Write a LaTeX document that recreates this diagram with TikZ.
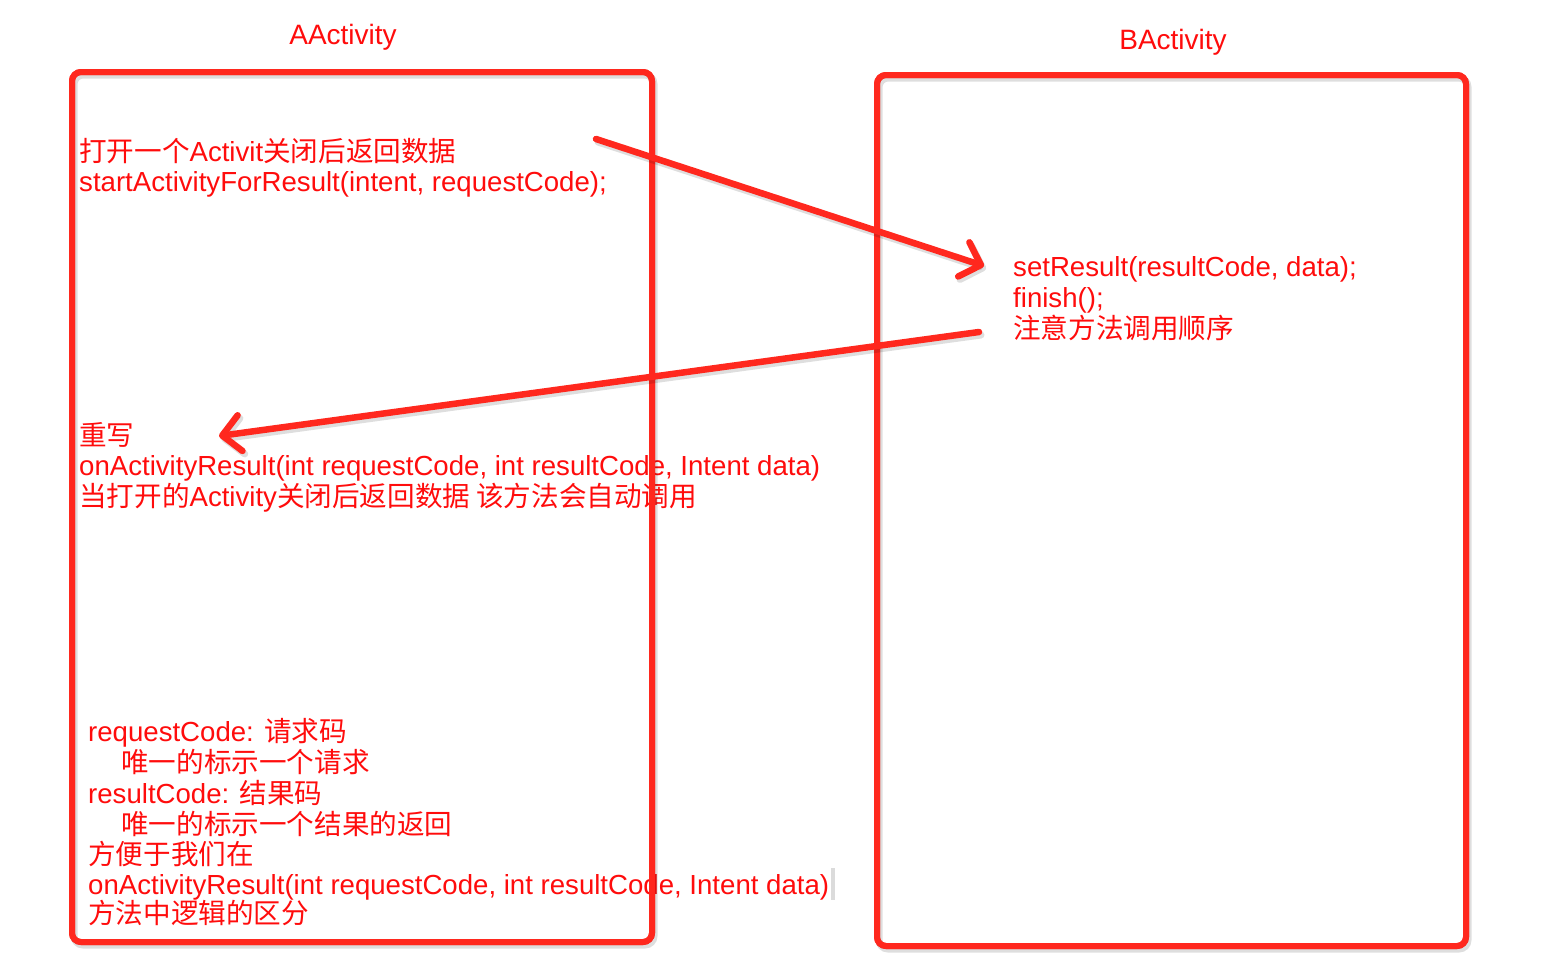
\documentclass[tikz,border=0pt]{standalone}
\usepackage{fontspec}
\setmainfont{Liberation Sans}
\newfontfamily\zh{Noto Sans CJK SC}
\usetikzlibrary{arrows.meta}
\definecolor{boxred}{RGB}{255,40,30}
\definecolor{txtred}{RGB}{255,12,12}
\tikzset{
  actbox/.style={draw=boxred, line width=6pt, rounded corners=9pt, inner sep=0pt, outer sep=0pt},
  shadowline/.style={draw=black, opacity=0.13, line width=7pt, rounded corners=9pt},
  shadowarrow/.style={draw=black, opacity=0.13, line width=7pt, line cap=round, -{Straight Barb[round, length=18pt, width=36pt]}},
  titletext/.style={text=txtred, font=\fontsize{28}{32}\selectfont, inner sep=0pt, anchor=base},
  txt/.style={text=txtred, font=\fontsize{27.6}{31}\selectfont, inner sep=0pt, anchor=base west},
  callarrow/.style={draw=boxred, line width=6.5pt, line cap=round, -{Straight Barb[round, length=18pt, width=36pt]}},
  cursorbar/.style={fill=black!14, draw=none, minimum width=4pt, minimum height=32pt, inner sep=0pt},
}
\begin{document}
\begin{tikzpicture}[x=1pt,y=-1pt]
\useasboundingbox (0,0) rectangle (1544,972);
\fill[white] (0,0) rectangle (1544,972);

% titles
\node[titletext] (tA) at (343,44) {AActivity};
\node[titletext] (tB) at (1173,49) {BActivity};

% A text
\node[txt] (l1) at (79,161) {{\zh 打开一个}Activit{\zh 关闭后返回数据}};
\node[txt] (l2) at (79,191) {startActivityForResult(intent, requestCode);};
\node[txt] (r1) at (79,445) {\zh 重写};
\node[txt] (r2) at (79,475) {onActivityResult(int requestCode, int resultCode, Intent data)};
\node[txt] (r3) at (79,506) {{\zh 当打开的}Activity{\zh 关闭后返回数据 该方法会自动调用}};

\node[txt] (n1) at (88,741) {requestCode: {\zh 请求码}};
\node[txt] (n2) at (121,772) {\zh 唯一的标示一个请求};
\node[txt] (n3) at (88,803) {resultCode: {\zh 结果码}};
\node[txt] (n4) at (121,834) {\zh 唯一的标示一个结果的返回};
\node[txt] (n5) at (88,864) {\zh 方便于我们在};
\node[txt] (n6) at (88,894) {onActivityResult(int requestCode, int resultCode, Intent data)};
\node[txt] (n7) at (88,923) {\zh 方法中逻辑的区分};
\node[cursorbar] (cur) at (833,884) {};

% B text
\node[txt] (b1) at (1013,276) {setResult(resultCode, data);};
\node[txt] (b2) at (1013,307) {finish();};
\node[txt] (b3) at (1013,338) {\zh 注意方法调用顺序};

% boxes
\node[actbox, minimum width=580pt, minimum height=870pt] (boxA) at (362,507) {};
\node[actbox, minimum width=589pt, minimum height=871pt] (boxB) at (1171.5,510.5) {};
\draw[shadowline] ([shift={(2,3)}]boxA.north west) rectangle ([shift={(2,3)}]boxA.south east);
\draw[shadowline] ([shift={(2,3)}]boxB.north west) rectangle ([shift={(2,3)}]boxB.south east);
\node[actbox, minimum width=580pt, minimum height=870pt] at (boxA.center) {};
\node[actbox, minimum width=589pt, minimum height=871pt] at (boxB.center) {};

% arrows
\coordinate (a1s) at (596,139);
\coordinate (a1e) at (984,266);
\coordinate (a2s) at (979,332);
\coordinate (a2e) at (219,436);
\draw[shadowarrow] ([shift={(2,3)}]a1s) -- ([shift={(2,3)}]a1e);
\draw[shadowarrow] ([shift={(2,3)}]a2s) -- ([shift={(2,3)}]a2e);
\draw[callarrow] (a1s) -- (a1e);
\draw[callarrow] (a2s) -- (a2e);
\end{tikzpicture}
\end{document}
